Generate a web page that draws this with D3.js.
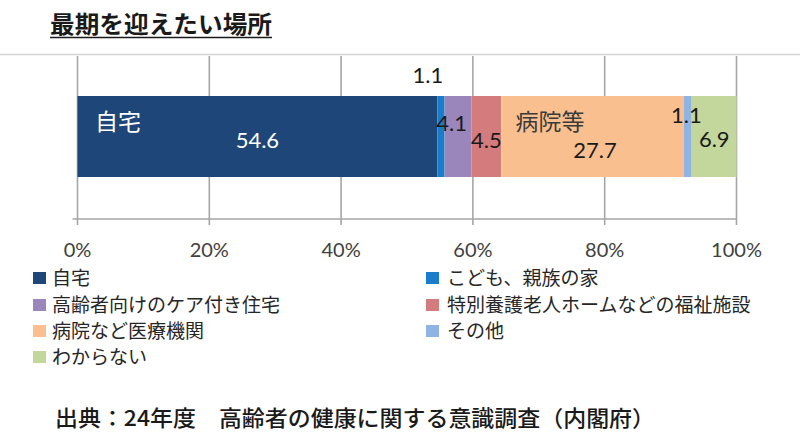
<!DOCTYPE html>
<html>
<head>
<meta charset="utf-8">
<script src="https://cdn.jsdelivr.net/npm/d3@7"></script>
<style>
  html, body { margin: 0; padding: 0; background: #fff; }
  svg { display: block; }
</style>
</head>
<body>
<svg id="chart" width="800" height="436"></svg>
<script>
// ---- data ----
const title = "最期を迎えたい場所";
const source = "出典：24年度　高齢者の健康に関する意識調査（内閣府）";
const categories = ["自宅", "こども、親族の家", "高齢者向けのケア付き住宅", "特別養護老人ホームなどの福祉施設", "病院など医療機関", "その他", "わからない"];
const values = [54.6, 1.1, 4.1, 4.5, 27.7, 1.1, 6.9];
const shortNames = ["自宅", "", "", "", "病院等", "", ""];
const ticks = [0, 20, 40, 60, 80, 100];
const colors = ["#1f4678", "#1a7dcc", "#9b86bb", "#d47b7e", "#f9bf8f", "#8fb4e3", "#c3d69b"];

// ---- layout ----
const svg = d3.select("#chart");
const x = d3.scaleLinear().domain([0, 100]).range([77.5, 736.5]);
const barTop = 96, barBottom = 177, axisY = 219;

// top separator line
svg.append("line").attr("x1", 0).attr("x2", 800).attr("y1", 54.5).attr("y2", 54.5)
  .attr("stroke", "#d4d4d4").attr("stroke-width", 1.5);

// title
svg.append("text").attr("x", 50).attr("y", 33)
  .attr("font-family", "'Noto Sans CJK JP'").attr("font-weight", 700).attr("font-size", 24)
  .attr("fill", "#1a1a1a").attr("textLength", 222).attr("lengthAdjust", "spacingAndGlyphs")
  .text(title);
svg.append("line").attr("x1", 50).attr("x2", 272).attr("y1", 37.5).attr("y2", 37.5)
  .attr("stroke", "#1a1a1a").attr("stroke-width", 1.6);

// gridlines
svg.append("g").selectAll("line").data(ticks).join("line")
  .attr("x1", d => x(d)).attr("x2", d => x(d))
  .attr("y1", 56).attr("y2", axisY + 6)
  .attr("stroke", "#a6a6a6").attr("stroke-width", 1.6);

// axis line
svg.append("line").attr("x1", x(0) - 5).attr("x2", x(100)).attr("y1", axisY).attr("y2", axisY)
  .attr("stroke", "#a6a6a6").attr("stroke-width", 1.6);

// tick labels
svg.append("g").selectAll("text").data(ticks).join("text")
  .attr("x", d => x(d)).attr("y", 257)
  .attr("text-anchor", "middle")
  .attr("font-family", "Lato, 'Open Sans', sans-serif").attr("font-size", 20)
  .attr("fill", "#404040")
  .text(d => d + "%");

// stacked segments
const starts = values.map((v, i) => d3.sum(values.slice(0, i)));
const segs = values.map((v, i) => ({ v, i, s: starts[i], e: starts[i] + v }));

svg.append("g").selectAll("rect").data(segs).join("rect")
  .attr("x", d => x(d.s)).attr("width", d => x(d.e) - x(d.s))
  .attr("y", barTop).attr("height", barBottom - barTop)
  .attr("fill", d => colors[d.i]);

// value label placement (layout only)
const labelLayout = [
  { dx: 0, y: 148, fill: "#ffffff" },
  { dx: -13, y: 83, fill: "#1a1a1a" },
  { dx: -6.5, y: 131, fill: "#1a1a1a" },
  { dx: 0, y: 148, fill: "#1a1a1a" },
  { dx: 2.5, y: 158, fill: "#1a1a1a" },
  { dx: -1, y: 123, fill: "#1a1a1a" },
  { dx: 0.5, y: 147, fill: "#1a1a1a" }
];
svg.append("g").selectAll("text").data(segs).join("text")
  .attr("x", d => (x(d.s) + x(d.e)) / 2 + labelLayout[d.i].dx)
  .attr("y", d => labelLayout[d.i].y)
  .attr("text-anchor", "middle")
  .attr("font-family", "Lato, 'Open Sans', sans-serif").attr("font-size", 22)
  .attr("fill", d => labelLayout[d.i].fill)
  .text(d => d3.format(".1f")(d.v));

// name labels inside bar
const nameLayout = [
  { x: 95, anchor: "start", fill: "#ffffff" },
  null, null, null,
  { x: 550, anchor: "middle", fill: "#3a3a3a" },
  null, null
];
svg.append("g").selectAll("text").data(segs.filter(d => shortNames[d.i])).join("text")
  .attr("x", d => nameLayout[d.i].x).attr("y", 130)
  .attr("text-anchor", d => nameLayout[d.i].anchor)
  .attr("font-family", "'Noto Sans CJK JP'").attr("font-size", 23)
  .attr("fill", d => nameLayout[d.i].fill)
  .text(d => shortNames[d.i]);

// legend
const legendRows = [278, 305, 331, 357];
const legend = svg.append("g").selectAll("g").data(categories).join("g")
  .attr("transform", (d, i) => `translate(${i % 2 === 0 ? 33 : 426},${legendRows[Math.floor(i / 2)]})`);
legend.append("rect").attr("x", 0).attr("y", -6).attr("width", 13).attr("height", 12)
  .attr("fill", (d, i) => colors[i]);
legend.append("text").attr("x", (d, i) => i % 2 === 0 ? 19 : 21).attr("y", 0)
  .attr("dy", "0.36em")
  .attr("font-family", "'Noto Sans CJK JP'").attr("font-size", 19)
  .attr("fill", "#262626")
  .text(d => d);

// source
svg.append("text").attr("x", 55).attr("y", 426)
  .attr("font-family", "'Noto Sans CJK JP'").attr("font-weight", 500).attr("font-size", 22)
  .attr("fill", "#1a1a1a").attr("textLength", 600).attr("lengthAdjust", "spacingAndGlyphs")
  .text(source);
</script>
</body>
</html>
